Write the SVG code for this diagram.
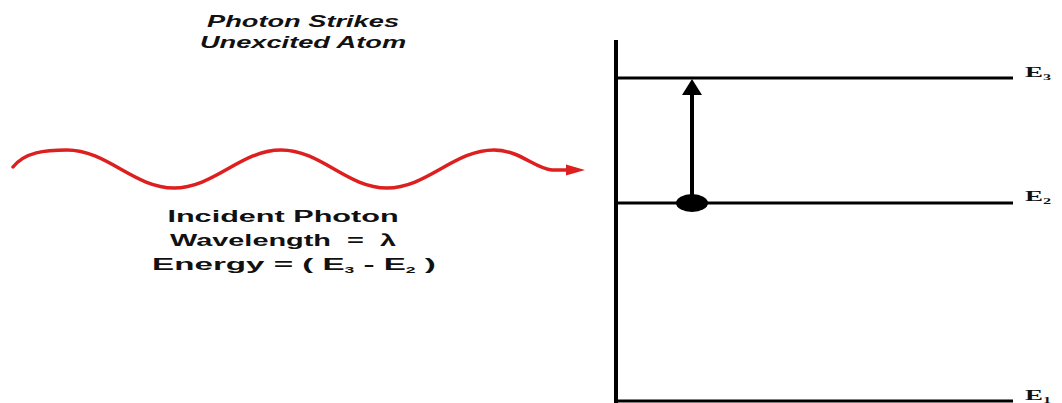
<svg xmlns="http://www.w3.org/2000/svg" width="1062" height="403" viewBox="0 0 1062 403">
<style>
.sans{font-family:"Liberation Sans",Arial,sans-serif;font-weight:bold;fill:#111}
.title{font-family:"Liberation Sans",Arial,sans-serif;font-weight:bold;font-style:italic;fill:#111;font-size:16.5px}
.lbl{font-family:"Liberation Serif","Times New Roman",serif;font-weight:bold;fill:#111;font-size:15px}
.sub{font-size:9px}
.lvl{stroke:#000;stroke-width:3;fill:none}
</style>
<rect width="1062" height="403" fill="#fff"/>
<g id="title">
<text class="title" transform="translate(303,27) scale(1.65,1)" text-anchor="middle">Photon Strikes</text>
<text class="title" transform="translate(303,48) scale(1.65,1)" text-anchor="middle">Unexcited Atom</text>
</g>
<g id="photon">
<path d="M13,167 C25,152 45,150 67,150 C107,150 134,188 174,188 C214,188 241,150 281,150 C321,150 347,188 387,188 C427,188 454,150 494,150 C520,150 535,169 552,170 L568,170" fill="none" stroke="#dd1f1f" stroke-width="3.5" stroke-linecap="round"/>
<polygon points="566,164.5 585,170 566,175.5" fill="#dd1f1f"/>
</g>
<g id="photon-label">
<text class="sans" font-size="17" transform="translate(283,222) scale(1.8,1)" text-anchor="middle">Incident Photon</text>
<text class="sans" font-size="17" transform="translate(283,246) scale(1.7,1)" text-anchor="middle" xml:space="preserve">Wavelength  =  λ</text>
<text class="sans" font-size="17" transform="translate(294,270) scale(1.95,1)" text-anchor="middle" xml:space="preserve">Energy = ( E<tspan class="sub" dy="3">3</tspan><tspan dy="-3"> - E</tspan><tspan class="sub" dy="3">2</tspan><tspan dy="-3"> )</tspan></text>
</g>
<g id="levels">
<line x1="616" y1="40" x2="616" y2="403" stroke="#000" stroke-width="4"/>
<line class="lvl" x1="616" y1="78" x2="1013" y2="78"/>
<line class="lvl" x1="616" y1="203" x2="1013" y2="203"/>
<line class="lvl" x1="616" y1="401" x2="1013" y2="401"/>
</g>
<g id="labels">
<text class="lbl" transform="translate(1025,77) scale(1.8,1)">E<tspan class="sub" dy="3">3</tspan></text>
<text class="lbl" transform="translate(1025,201) scale(1.8,1)">E<tspan class="sub" dy="3">2</tspan></text>
<text class="lbl" transform="translate(1025,400) scale(1.8,1)">E<tspan class="sub" dy="3">1</tspan></text>
</g>
<g id="connectors">
<line x1="692" y1="203" x2="692" y2="92" stroke="#000" stroke-width="4"/>
<polygon points="682,95 692,79 702,95" fill="#000"/>
<ellipse cx="692" cy="203" rx="16" ry="9" fill="#000"/>
</g>
</svg>
